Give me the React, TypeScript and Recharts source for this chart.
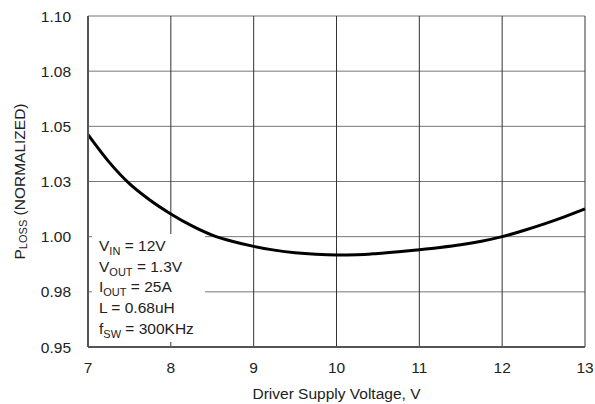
import { CartesianGrid, Line, LineChart, XAxis, YAxis } from "recharts";

const voltage = [
  7, 7.25, 7.5, 7.75, 8, 8.25, 8.5, 8.75, 9, 9.25, 9.5, 9.75, 10, 10.25, 10.5,
  10.75, 11, 11.25, 11.5, 11.75, 12, 12.25, 12.5, 12.75, 13,
];
const ploss = [
  1.0462, 1.034, 1.024, 1.0165, 1.0103, 1.005, 1.0007, 0.9978, 0.9956,
  0.9939, 0.9927, 0.992, 0.9917, 0.9918, 0.9924, 0.9932, 0.9941, 0.9951,
  0.9963, 0.9979, 1.0, 1.0027, 1.0057, 1.009, 1.0126,
];
const xTicks = [7, 8, 9, 10, 11, 12, 13];
const yTicks = [0.95, 0.975, 1.0, 1.025, 1.05, 1.075, 1.1];
const yTickLabels = ["0.95", "0.98", "1.00", "1.03", "1.05", "1.08", "1.10"];

const data = voltage.map((v, i) => ({ v, p: ploss[i] }));

const FONT = '"Liberation Sans", Arial, sans-serif';
const FS = 15.5;

function YLabel({ viewBox }: any) {
  const cx = 19;
  const cy = viewBox.y + viewBox.height / 2;
  return (
    <text
      x={cx}
      y={cy}
      transform={`rotate(-90, ${cx}, ${cy})`}
      textAnchor="middle"
      dominantBaseline="central"
      fontSize={FS}
      fontFamily={FONT}
      fill="#222"
    >
      P
      <tspan fontSize={11} dy={4}>
        LOSS
      </tspan>
      <tspan dy={-4}> (NORMALIZED)</tspan>
    </text>
  );
}

const sub = { fontSize: 11, position: "relative" as const, top: 4, lineHeight: 0 };

export default function App() {
  return (
    <div style={{ position: "absolute", left: 0, top: 0, width: 595, height: 404, background: "#fff" }}>
      <LineChart
        width={595}
        height={404}
        data={data}
        margin={{ top: 16, right: 10, bottom: 0, left: 0 }}
      >
        <CartesianGrid vertical={false} stroke="#777" />
        <CartesianGrid horizontal={false} stroke="#333" />
        <XAxis
          type="number"
          dataKey="v"
          domain={[7, 13]}
          ticks={xTicks}
          height={57}
          tickLine={false}
          tickMargin={9}
          axisLine={{ stroke: "#555", strokeWidth: 2 }}
          tick={{ fill: "#222", fontSize: FS, fontFamily: FONT }}
          label={{
            value: "Driver Supply Voltage, V",
            position: "insideBottom",
            offset: 5,
            fill: "#222",
            fontSize: FS,
            fontFamily: FONT,
          }}
        />
        <YAxis
          type="number"
          domain={[0.95, 1.1]}
          ticks={yTicks}
          width={88}
          interval={0}
          tickLine={false}
          tickMargin={11}
          axisLine={{ stroke: "#555", strokeWidth: 2 }}
          tick={{ fill: "#222", fontSize: FS, fontFamily: FONT }}
          tickFormatter={(_v: number, i: number) => yTickLabels[i]}
          label={<YLabel />}
        />
        <Line
          type="monotone"
          dataKey="p"
          stroke="#000"
          strokeWidth={3}
          dot={false}
          isAnimationActive={false}
        />
      </LineChart>
      <div
        style={{
          position: "absolute",
          left: 92,
          top: 234,
          width: 113,
          height: 108,
          background: "#fff",
          paddingLeft: 7,
          paddingTop: 2,
          boxSizing: "border-box",
          fontFamily: FONT,
          fontSize: FS,
          lineHeight: "20.7px",
          color: "#222",
          whiteSpace: "nowrap",
        }}
      >
        <div>
          V<span style={sub}>IN</span> = 12V
        </div>
        <div>
          V<span style={sub}>OUT</span> = 1.3V
        </div>
        <div>
          I<span style={sub}>OUT</span> = 25A
        </div>
        <div>L = 0.68uH</div>
        <div>
          f<span style={sub}>SW</span> = 300KHz
        </div>
      </div>
    </div>
  );
}
